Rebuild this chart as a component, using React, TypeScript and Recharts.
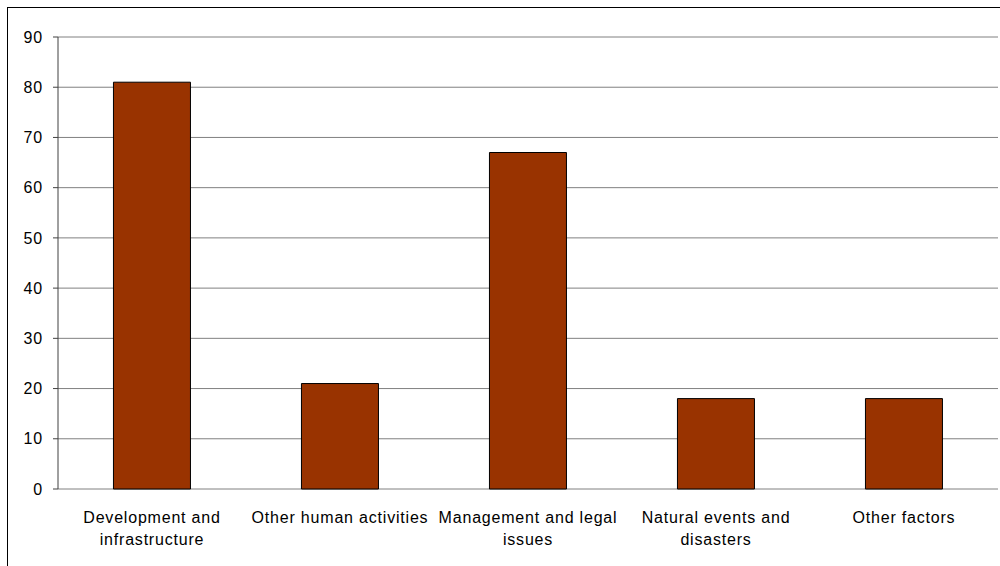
import * as React from "react";
import { Bar, BarChart, CartesianGrid, XAxis, YAxis } from "recharts";

const categories = [
	"Development and infrastructure",
	"Other human activities",
	"Management and legal issues",
	"Natural events and disasters",
	"Other factors",
];
const tickLines = [
	["Development and", "infrastructure"],
	["Other human activities"],
	["Management and legal", "issues"],
	["Natural events and", "disasters"],
	["Other factors"],
];
const counts = [81, 21, 67, 18, 18];
const yTicks = [0, 10, 20, 30, 40, 50, 60, 70, 80, 90];
const edgeTicks = [0, 1, 2, 3, 4, 5];

const data = categories.map((name, i) => ({ name, idx: i, value: counts[i] }));

const FONT = "'Liberation Sans', Arial, sans-serif";

function CategoryTick(props: any) {
	const { x, y, index } = props;
	const lines = tickLines[index] ?? [];
	return (
		<text
			x={x}
			y={y}
			textAnchor="middle"
			fontFamily={FONT}
			fontSize={16}
			letterSpacing={0.8}
			fill="#000"
		>
			{lines.map((l, i) => (
				<tspan key={i} x={x} dy={i === 0 ? 26 : 22}>
					{l}
				</tspan>
			))}
		</text>
	);
}

export default function App() {
	return (
		<div
			style={{
				position: "absolute",
				left: 0,
				top: 0,
				width: 1000,
				height: 566,
				overflow: "hidden",
				background: "#fff",
			}}
		>
			<div
				style={{
					position: "absolute",
					left: 7,
					top: 7,
					width: 1010,
					height: 600,
					border: "1px solid #000",
				}}
			/>
			<div style={{ position: "absolute", left: 0, top: 0 }}>
				<BarChart
					width={1000}
					height={566}
					data={data}
					margin={{ top: 37, right: 2, bottom: 0, left: 0 }}
					barCategoryGap="29.5%"
				>
					<CartesianGrid
						horizontal
						vertical={false}
						stroke="#808080"
						strokeWidth={1}
					/>
					<XAxis
						xAxisId="edge"
						type="number"
						dataKey="idx"
						domain={[0, 5]}
						ticks={edgeTicks}
						height={0}
						tickSize={5}
						axisLine={{ stroke: "#404040" }}
						tickLine={{ stroke: "#404040" }}
						tick={() => <g />}
					/>
					<XAxis
						dataKey="name"
						height={77}
						axisLine={false}
						tickLine={false}
						interval={0}
						tick={<CategoryTick />}
					/>
					<YAxis
						width={58}
						domain={[0, 90]}
						ticks={yTicks}
						interval={0}
						tickSize={5}
						tickMargin={10}
						axisLine={{ stroke: "#404040" }}
						tickLine={{ stroke: "#404040" }}
						tick={{
							fontFamily: FONT,
							fontSize: 16,
							letterSpacing: 0.8,
							fill: "#000",
						}}
					/>
					<Bar
						dataKey="value"
						fill="#993300"
						stroke="#000"
						strokeWidth={1}
						isAnimationActive={false}
					/>
				</BarChart>
			</div>
		</div>
	);
}
